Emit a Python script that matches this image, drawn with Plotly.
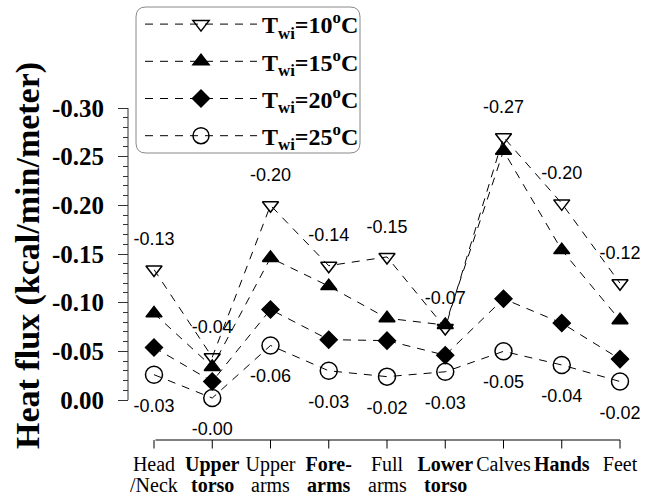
import plotly.graph_objects as go

cat_line1 = ["Head", "<b>Upper</b>", "Upper", "<b>Fore-</b>", "Full", "<b>Lower</b>",
             "Calves", "<b>Hands</b>", "Feet"]
cat_line2 = ["/Neck", "<b>torso</b>", "arms", "<b>arms</b>", "arms", "<b>torso</b>",
             "", "", ""]
x_pos = list(range(len(cat_line1)))

t10 = [-0.134, -0.044, -0.200, -0.138, -0.147, -0.074, -0.270, -0.202, -0.120]
t15 = [-0.089, -0.034, -0.146, -0.117, -0.084, -0.077, -0.256, -0.154, -0.082]
t20 = [-0.054, -0.019, -0.093, -0.062, -0.061, -0.046, -0.104, -0.079, -0.042]
t25 = [-0.026, -0.002, -0.056, -0.030, -0.024, -0.029, -0.050, -0.036, -0.019]

series_names = ["<b>T<sub>wi</sub>=10<sup>o</sup>C</b>", "<b>T<sub>wi</sub>=15<sup>o</sup>C</b>",
                "<b>T<sub>wi</sub>=20<sup>o</sup>C</b>", "<b>T<sub>wi</sub>=25<sup>o</sup>C</b>"]

y_tickvals = [0.0, -0.05, -0.10, -0.15, -0.20, -0.25, -0.30]
y_ticktext = ["0.00", "-0.05", "-0.10", "-0.15", "-0.20", "-0.25", "-0.30"]
y_minor = [-k / 100 for k in range(0, 31)]
y_title = "<b>Heat flux (kcal/min/meter)</b>"

SERIF = "Liberation Serif"
SANS = "Liberation Sans"

fig = go.Figure()
styles = [
    (t10, "triangle-down-open", 14),
    (t15, "triangle-up", 14),
    (t20, "diamond", 13),
    (t25, "circle-open", 17),
]
for i, (vals, sym, sz) in enumerate(styles):
    fig.add_trace(go.Scatter(
        x=x_pos, y=vals, mode="lines+markers", name=series_names[i],
        line=dict(color="black", width=1, dash="8px,7px"),
        marker=dict(symbol=sym, size=sz, color="black", line=dict(color="black", width=1.5)),
        cliponaxis=False, legendgroup=str(i),
    ))

# value labels (top series above, bottom series below)
for vals, pos, off in [(t10, "top center", 30), (t25, "bottom center", 36)]:
    fig.add_trace(go.Scatter(
        x=x_pos, y=vals, mode="markers+text",
        text=[f"{v:.2f}" for v in vals], textposition=pos,
        textfont=dict(family=SANS, size=18, color="black"),
        marker=dict(size=off, color="rgba(0,0,0,0)"),
        showlegend=False, hoverinfo="skip", cliponaxis=False,
    ))

W, H = 662, 497
ml, mr, mt, mb = 128, 42, 108, 47   # plot area ends at the bottom of the x tick marks
pw, ph = W - ml - mr, H - mt - mb
TICK = 10
AXIS_PX = H - mb - TICK              # x axis line (px from top)

def px_x(p):
    return (p - ml) / pw

def px_y(p):
    return (H - mb - p) / ph

y_bottom = 0.30 * (H - mb - 400) / 292   # y=0 sits at 400 px, -0.30 at 108 px

# rounded legend frame
x0, x1, y0, y1 = px_x(136), px_x(360), px_y(153), px_y(7)
rx, ry = 10 / pw, 10 / ph
path = (f"M{x0+rx},{y0} L{x1-rx},{y0} Q{x1},{y0} {x1},{y0+ry} "
        f"L{x1},{y1-ry} Q{x1},{y1} {x1-rx},{y1} L{x0+rx},{y1} Q{x0},{y1} {x0},{y1-ry} "
        f"L{x0},{y0+ry} Q{x0},{y0} {x0+rx},{y0} Z")
fig.add_shape(type="path", path=path, xref="paper", yref="paper",
              line=dict(color="#888888", width=1), fillcolor="white", layer="above")
# y axis line (ends at 0.00 like the reference)
fig.add_shape(type="line", xref="paper", x0=0, x1=0, yref="y",
              y0=y_tickvals[0], y1=y_tickvals[-1], line=dict(color="#333333", width=1))

# x axis line and tick marks drawn as arrow-less annotation lines on the x scale
fig.add_annotation(text="", xref="x", yref="paper", x=x_pos[-1], y=px_y(AXIS_PX),
                   axref="x", ax=x_pos[0], ayref="pixel", ay=0,
                   showarrow=True, arrowhead=0, arrowwidth=1, arrowcolor="black",
                   standoff=0, startstandoff=0)
for xv in x_pos:
    fig.add_annotation(text="", xref="x", yref="paper", x=xv, y=px_y(AXIS_PX),
                       axref="pixel", ax=0, ayref="pixel", ay=TICK,
                       showarrow=True, arrowhead=0, arrowwidth=1, arrowcolor="black",
                       standoff=0, startstandoff=0)
# second line of the category labels
for xv, txt in zip(x_pos, cat_line2):
    if txt:
        fig.add_annotation(text=txt, xref="x", yref="paper", x=xv, y=px_y(485),
                           showarrow=False, xanchor="center", yanchor="middle",
                           font=dict(family=SERIF, size=20, color="black"))

fig.add_annotation(text=y_title, xref="paper", yref="paper", x=px_x(28), y=px_y(256),
                   textangle=-90, showarrow=False, xanchor="center", yanchor="middle",
                   font=dict(family=SERIF, size=34, color="black"))

fig.update_layout(
    width=W, height=H,
    margin=dict(l=ml, r=mr, t=mt, b=mb, pad=0, autoexpand=False),
    plot_bgcolor="white", paper_bgcolor="white",
    showlegend=True,
    legend=dict(x=px_x(140), y=px_y(2), xanchor="left", yanchor="top",
                bgcolor="rgba(0,0,0,0)", borderwidth=0,
                font=dict(family=SERIF, size=24, color="black"),
                tracegroupgap=3, itemwidth=112),
    xaxis=dict(domain=[px_x(154), 1], range=[0, 8], anchor="y",
               tickvals=x_pos, ticktext=cat_line1, showgrid=False, zeroline=False,
               showline=False, ticks="", automargin=False,
               tickfont=dict(family=SERIF, size=20, color="black")),
    yaxis=dict(domain=[0, 1], range=[y_bottom, -0.30], anchor="free", position=0,
               tickvals=y_tickvals, ticktext=y_ticktext, showgrid=False, zeroline=False,
               showline=False, automargin=False,
               ticks="outside", ticklen=10, tickcolor="#333333", ticklabelstandoff=9,
               minor=dict(tickvals=y_minor, ticks="outside", ticklen=5, tickcolor="#333333"),
               tickfont=dict(family=SERIF, size=25, color="black", weight="bold")),
)

fig.write_html("out.html", config={"displayModeBar": False},
               post_script="document.body.style.margin='0px';")
